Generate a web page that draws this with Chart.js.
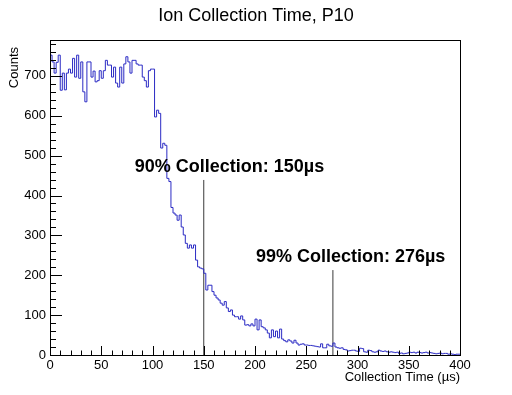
<!DOCTYPE html>
<html>
<head>
<meta charset="utf-8">
<title>Ion Collection Time, P10</title>
<script src="https://cdn.jsdelivr.net/npm/chart.js@4/dist/chart.umd.min.js"></script>
<style>
  html, body { margin: 0; padding: 0; background: #fff; }
  #wrap { width: 512px; height: 395px; }
</style>
</head>
<body>
<div id="wrap"><canvas id="ionChart" width="512" height="395"></canvas></div>
<script>
// histogram: 2 us bins from 0 to 400 us
const binWidth = 2;
const xMin = 0;
const counts = [
  752, 735, 707, 734, 752, 664, 707, 665, 707, 717,
  707, 744, 697, 752, 694, 735, 660, 635, 735, 735,
  697, 712, 685, 688, 713, 694, 713, 739, 727, 727,
  697, 722, 682, 672, 722, 682, 730, 748, 735, 707,
  739, 739, 730, 727, 727, 697, 688, 672, 713, 717,
  717, 597, 614, 606, 519, 531, 526, 443, 435, 370,
  356, 351, 338, 351, 321, 301, 280, 268, 276, 268,
  276, 238, 221, 218, 216, 205, 163, 175, 175, 159,
  150, 143, 138, 130, 125, 134, 118, 109, 113, 100,
  96, 96, 90, 98, 88, 75, 76, 73, 78, 73,
  90, 63, 88, 71, 68, 63, 55, 43, 63, 46,
  60, 43, 65, 40, 36, 33, 38, 35, 30, 37,
  30, 25, 27, 28, 25, 25, 24, 24, 23, 22,
  21, 20, 28, 18, 18, 27, 23, 22, 30, 20,
  18, 17, 18, 14, 13, 10, 11, 12, 12, 10,
  9, 17, 16, 8, 7, 12, 11, 8, 7, 8,
  12, 10, 9, 10, 8, 7, 8, 7, 6, 7,
  4, 5, 3, 4, 5, 7, 6, 7, 5, 7,
  6, 5, 6, 7, 5, 6, 5, 4, 3, 4,
  5, 3, 4, 4, 2, 3, 2, 1, 2, 2
];

// collection-fraction markers
const markerTimes = [150, 276];
const markerHeights = [439, 213];
const markerLabels = ['90% Collection: 150\u00b5s', '99% Collection: 276\u00b5s'];

const xTicks = [0, 50, 100, 150, 200, 250, 300, 350, 400];
const yTicks = [0, 100, 200, 300, 400, 500, 600, 700];

const FONT = '"Liberation Sans", Arial, Helvetica, sans-serif';
Chart.defaults.font.family = FONT;
Chart.defaults.color = '#000';

// histogram as step points at bin edges
const histPoints = counts.map((c, i) => ({ x: xMin + i * binWidth, y: c }));
histPoints.push({ x: xMin + counts.length * binWidth, y: counts[counts.length - 1] });

const markerSets = markerTimes.map((t, i) => ({
    data: [{ x: t, y: 0 }, { x: t, y: markerHeights[i] }],
    borderColor: '#3a3a3a',
    borderWidth: 1,
    pointRadius: 0,
    fill: false
}));

// ROOT-like frame, inward ticks, titles and marker labels
const rootStyle = {
    id: 'rootStyle',
    afterDraw(chart) {
        const ctx = chart.ctx;
        const a = chart.chartArea;
        const xs = chart.scales.x, ys = chart.scales.y;
        ctx.save();
        ctx.strokeStyle = '#000';
        ctx.lineWidth = 1;
        ctx.strokeRect(Math.round(a.left) + 0.5, Math.round(a.top) + 0.5,
            Math.round(a.right - a.left), Math.round(a.bottom - a.top));

        ctx.beginPath();
        for (let v = xs.min; v <= xs.max; v += 10) {
            const px = Math.round(xs.getPixelForValue(v)) + 0.5;
            const len = v % 50 === 0 ? 9 : 4.5;
            ctx.moveTo(px, a.bottom);
            ctx.lineTo(px, a.bottom - len);
        }
        for (let v = 0; v <= ys.max; v += 20) {
            const py = Math.round(ys.getPixelForValue(v)) + 0.5;
            const len = v % 100 === 0 ? 12 : 6;
            ctx.moveTo(a.left, py);
            ctx.lineTo(a.left + len, py);
        }
        ctx.stroke();

        ctx.fillStyle = '#000';
        ctx.font = '18px ' + FONT;
        ctx.textAlign = 'center';
        ctx.textBaseline = 'alphabetic';
        ctx.fillText('Ion Collection Time, P10', chart.width / 2, 21);

        ctx.font = '13px ' + FONT;
        ctx.textAlign = 'right';
        ctx.fillText('Collection Time (\u00b5s)', a.right, a.bottom + 26);

        ctx.save();
        ctx.translate(18, a.top + 7);
        ctx.rotate(-Math.PI / 2);
        ctx.textAlign = 'right';
        ctx.fillText('Counts', 0, 0);
        ctx.restore();

        ctx.font = 'bold 18px ' + FONT;
        ctx.textAlign = 'left';
        markerLabels.forEach((txt, i) => {
            const px = xs.getPixelForValue(markerTimes[i]) - (i === 0 ? 69 : 77);
            const py = ys.getPixelForValue(markerHeights[i]) - 8;
            ctx.fillText(txt, px, py);
        });
        ctx.restore();
    }
};

new Chart(document.getElementById('ionChart').getContext('2d'), {
    type: 'line',
    data: {
        datasets: [{
            data: histPoints,
            stepped: true,
            borderColor: '#2b2bc4',
            borderWidth: 1,
            pointRadius: 0,
            fill: false
        }, ...markerSets]
    },
    options: {
        responsive: false,
        animation: false,
        devicePixelRatio: 1,
        layout: { padding: { left: 0, right: 52, top: 40, bottom: 0 } },
        plugins: {
            legend: { display: false },
            tooltip: { enabled: false },
            title: { display: false }
        },
        scales: {
            x: {
                type: 'linear',
                min: 0,
                max: 400,
                grid: { display: false, drawTicks: false },
                border: { display: false },
                afterFit: s => { s.height = 40; },
                afterBuildTicks: s => { s.ticks = xTicks.map(v => ({ value: v })); },
                ticks: { font: { size: 13 }, color: '#000', padding: 3, maxRotation: 0, autoSkip: false }
            },
            y: {
                min: 0,
                max: 790,
                grid: { display: false, drawTicks: false },
                border: { display: false },
                afterFit: s => { s.width = 50; },
                afterBuildTicks: s => { s.ticks = yTicks.map(v => ({ value: v })); },
                ticks: { font: { size: 13 }, color: '#000', padding: 4 }
            }
        }
    },
    plugins: [rootStyle]
});
</script>
</body>
</html>
